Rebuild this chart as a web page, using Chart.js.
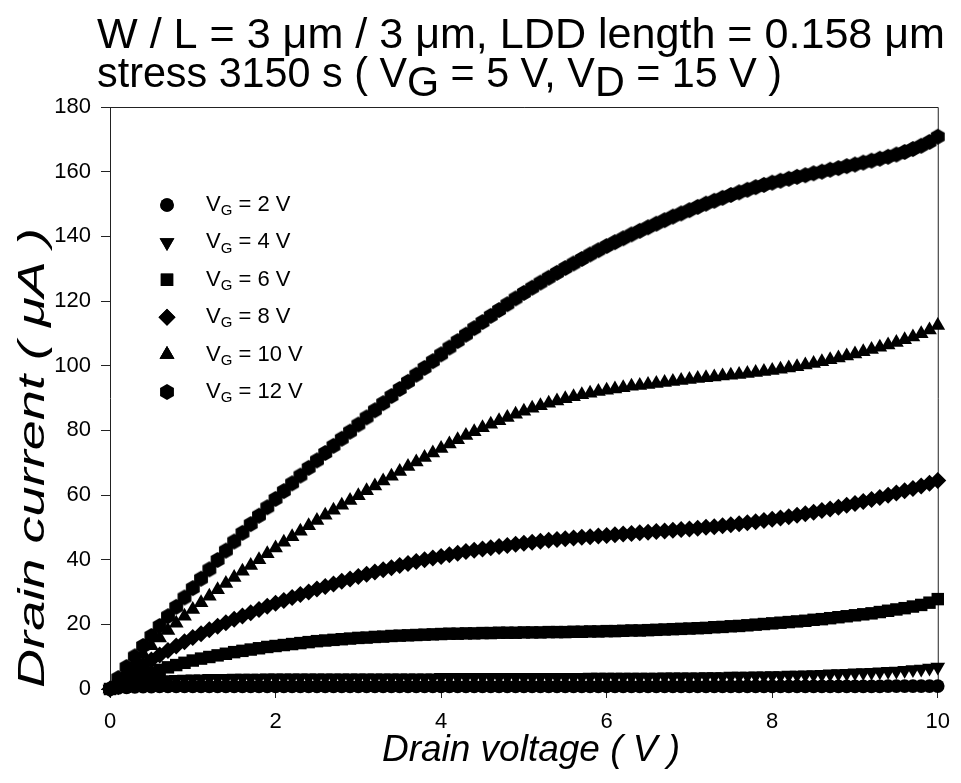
<!DOCTYPE html>
<html>
<head>
<meta charset="utf-8">
<script src="https://cdn.jsdelivr.net/npm/chart.js@4.4.0/dist/chart.umd.min.js"></script>
<style>
  html, body { margin: 0; padding: 0; background: #ffffff; }
  canvas { display: block; }
</style>
</head>
<body>
<canvas id="c" width="961" height="783"></canvas>
<script>
// Drain voltage sweep (V)
const drainVoltage = [
  0.0,0.1,0.2,0.3,0.4,0.5,0.6,0.7,0.8,0.9,
  1.0,1.1,1.2,1.3,1.4,1.5,1.6,1.7,1.8,1.9,
  2.0,2.1,2.2,2.3,2.4,2.5,2.6,2.7,2.8,2.9,
  3.0,3.1,3.2,3.3,3.4,3.5,3.6,3.7,3.8,3.9,
  4.0,4.1,4.2,4.3,4.4,4.5,4.6,4.7,4.8,4.9,
  5.0,5.1,5.2,5.3,5.4,5.5,5.6,5.7,5.8,5.9,
  6.0,6.1,6.2,6.3,6.4,6.5,6.6,6.7,6.8,6.9,
  7.0,7.1,7.2,7.3,7.4,7.5,7.6,7.7,7.8,7.9,
  8.0,8.1,8.2,8.3,8.4,8.5,8.6,8.7,8.8,8.9,
  9.0,9.1,9.2,9.3,9.4,9.5,9.6,9.7,9.8,9.9,
  10.0
];

// Drain current (uA) for each gate voltage
const currentVg2 = [
  0.0,0.3,0.5,0.6,0.7,0.7,0.8,0.8,0.8,0.8,
  0.8,0.8,0.8,0.8,0.8,0.8,0.8,0.8,0.8,0.8,
  0.8,0.8,0.8,0.8,0.8,0.8,0.8,0.8,0.8,0.8,
  0.8,0.8,0.8,0.8,0.8,0.8,0.8,0.8,0.8,0.8,
  0.8,0.8,0.8,0.8,0.8,0.8,0.8,0.8,0.8,0.8,
  0.8,0.8,0.8,0.8,0.8,0.8,0.8,0.8,0.8,0.8,
  0.8,0.8,0.8,0.8,0.8,0.8,0.8,0.8,0.8,0.8,
  0.8,0.8,0.8,0.8,0.8,0.8,0.8,0.8,0.8,0.8,
  0.8,0.8,0.8,0.8,0.8,0.8,0.8,0.8,0.8,0.8,
  0.8,0.8,0.8,0.8,0.9,0.9,0.9,0.9,0.9,0.9,
  0.9
];
const currentVg4 = [
  0.0,0.7,1.3,1.8,2.2,2.5,2.7,2.9,3.0,3.1,
  3.2,3.2,3.3,3.3,3.3,3.4,3.4,3.4,3.4,3.5,
  3.5,3.5,3.5,3.5,3.5,3.5,3.5,3.5,3.5,3.5,
  3.5,3.5,3.5,3.5,3.5,3.5,3.5,3.5,3.5,3.5,
  3.6,3.6,3.6,3.6,3.6,3.6,3.6,3.6,3.6,3.6,
  3.6,3.6,3.6,3.6,3.6,3.6,3.6,3.6,3.7,3.7,
  3.7,3.7,3.7,3.7,3.7,3.7,3.7,3.8,3.8,3.8,
  3.8,3.8,3.9,3.9,3.9,4.0,4.0,4.0,4.1,4.1,
  4.2,4.2,4.3,4.3,4.4,4.5,4.6,4.7,4.8,4.9,
  5.0,5.1,5.2,5.3,5.5,5.6,5.8,6.0,6.2,6.5,
  6.8
];
const currentVg6 = [
  0.0,1.2,2.3,3.3,4.2,5.1,5.9,6.7,7.4,8.1,
  8.8,9.4,9.9,10.4,10.9,11.4,11.8,12.2,12.6,13.0,
  13.3,13.6,13.9,14.2,14.5,14.8,15.0,15.2,15.4,15.6,
  15.8,15.9,16.1,16.2,16.4,16.5,16.6,16.7,16.8,16.9,
  17.0,17.1,17.1,17.2,17.2,17.3,17.3,17.4,17.4,17.4,
  17.5,17.5,17.5,17.6,17.6,17.6,17.7,17.7,17.8,17.8,
  17.9,17.9,18.0,18.1,18.1,18.2,18.3,18.4,18.5,18.6,
  18.7,18.8,18.9,19.1,19.2,19.4,19.5,19.7,19.9,20.1,
  20.3,20.5,20.7,20.9,21.1,21.4,21.6,21.9,22.2,22.5,
  22.8,23.1,23.4,23.8,24.2,24.6,25.0,25.5,26.0,26.7,
  27.8
];
const currentVg8 = [
  0.0,2.0,3.9,5.7,7.4,9.0,10.5,11.9,13.3,14.6,
  15.9,17.1,18.3,19.4,20.5,21.6,22.6,23.6,24.6,25.6,
  26.5,27.4,28.3,29.2,30.0,30.9,31.7,32.5,33.3,34.0,
  34.8,35.5,36.2,36.9,37.5,38.2,38.8,39.4,40.0,40.5,
  41.0,41.5,42.0,42.5,42.9,43.3,43.7,44.1,44.4,44.8,
  45.1,45.4,45.7,46.0,46.2,46.5,46.7,46.9,47.1,47.3,
  47.5,47.7,47.9,48.1,48.3,48.5,48.7,48.9,49.1,49.3,
  49.5,49.7,50.0,50.2,50.5,50.8,51.1,51.4,51.7,52.1,
  52.5,52.9,53.3,53.7,54.2,54.7,55.2,55.7,56.2,56.8,
  57.4,58.0,58.6,59.2,59.9,60.6,61.3,62.0,62.8,63.6,
  64.5
];
const currentVg10 = [
  0.0,2.8,5.6,8.3,10.9,13.4,15.8,18.1,20.3,22.5,
  24.6,26.7,28.7,30.7,32.6,34.5,36.4,38.2,40.0,41.8,
  43.6,45.4,47.1,48.8,50.5,52.1,53.7,55.3,56.8,58.3,
  59.8,61.3,62.8,64.3,65.8,67.3,68.8,70.2,71.6,73.0,
  74.4,75.8,77.1,78.4,79.6,80.8,81.9,83.0,84.0,85.0,
  85.9,86.8,87.6,88.4,89.1,89.8,90.4,91.0,91.5,92.0,
  92.4,92.8,93.2,93.6,93.9,94.2,94.5,94.8,95.1,95.4,
  95.7,96.0,96.3,96.5,96.8,97.0,97.3,97.6,97.9,98.2,
  98.5,98.9,99.3,99.7,100.2,100.7,101.2,101.8,102.4,103.0,
  103.6,104.3,105.0,105.7,106.4,107.2,108.0,108.9,109.9,111.0,
  112.4
];
const currentVg12 = [
  0.0,3.4,6.8,10.1,13.3,16.4,19.5,22.5,25.4,28.3,
  31.2,34.1,37.0,39.9,42.8,45.6,48.3,51.0,53.6,56.2,
  58.8,61.2,63.6,66.0,68.4,70.7,73.0,75.2,77.4,79.6,
  81.8,84.0,86.2,88.4,90.6,92.8,95.0,97.2,99.3,101.4,
  103.5,105.6,107.6,109.6,111.6,113.5,115.4,117.2,119.0,120.8,
  122.5,124.1,125.7,127.2,128.7,130.2,131.6,133.0,134.4,135.7,
  137.0,138.2,139.4,140.6,141.7,142.8,143.9,145.0,146.1,147.1,
  148.1,149.1,150.1,151.0,151.9,152.8,153.6,154.4,155.2,155.9,
  156.6,157.2,157.8,158.4,158.9,159.5,160.0,160.6,161.1,161.7,
  162.2,162.8,163.4,164.0,164.6,165.3,166.1,167.0,168.0,169.2,
  170.8
];

const gateVoltages = ['2', '4', '6', '8', '10', '12'];
const xTickValues = [0, 2, 4, 6, 8, 10];
const yTickValues = [0, 20, 40, 60, 80, 100, 120, 140, 160, 180];

const FONT = 'Arial, "Liberation Sans", Helvetica, sans-serif';

// Pointy-top hexagon marker, drawn once on a small canvas
function makeHexagon(r) {
  const size = Math.ceil(r * 2) + 2;
  const cv = document.createElement('canvas');
  cv.width = size; cv.height = size;
  const g = cv.getContext('2d');
  g.fillStyle = '#000';
  g.beginPath();
  for (let i = 0; i < 6; i++) {
    const a = -Math.PI / 2 + i * Math.PI / 3;
    const px = size / 2 + r * Math.cos(a);
    const py = size / 2 + r * Math.sin(a);
    if (i === 0) g.moveTo(px, py); else g.lineTo(px, py);
  }
  g.closePath();
  g.fill();
  return cv;
}
const hexagon = makeHexagon(8);

const series = [currentVg2, currentVg4, currentVg6, currentVg8, currentVg10, currentVg12];
const markerStyles = [
  { pointStyle: 'circle',   rotation: 0,   radius: 6.8 },
  { pointStyle: 'triangle', rotation: 180, radius: 8.5 },
  { pointStyle: 'rect',     rotation: 0,   radius: 8.8 },
  { pointStyle: 'rectRot',  rotation: 0,   radius: 8.5 },
  { pointStyle: 'triangle', rotation: 0,   radius: 8.5 },
  { pointStyle: hexagon,    rotation: 0,   radius: 8 }
];

const datasets = series.map((vals, i) => ({
  label: 'VG = ' + gateVoltages[i] + ' V',
  gate: gateVoltages[i],
  data: drainVoltage.map((v, k) => ({ x: v, y: vals[k] })),
  showLine: false,
  pointStyle: markerStyles[i].pointStyle,
  rotation: markerStyles[i].rotation,
  pointRadius: markerStyles[i].radius,
  pointHoverRadius: markerStyles[i].radius,
  pointBackgroundColor: '#000',
  pointBorderColor: '#000',
  pointBorderWidth: 0,
  clip: false
}));

// Writes text pieces one after another; a piece may be lowered (subscript)
function drawRun(ctx, x, y, pieces) {
  pieces.forEach(p => {
    ctx.font = p.size + 'px ' + FONT;
    ctx.fillText(p.t, x, y + (p.dy || 0));
    x += ctx.measureText(p.t).width;
  });
  return x;
}
function runWidth(ctx, pieces) {
  let w = 0;
  pieces.forEach(p => { ctx.font = p.size + 'px ' + FONT; w += ctx.measureText(p.t).width; });
  return w;
}

const framePlugin = {
  id: 'frame',
  beforeDatasetsDraw(chart) {
    const { ctx, chartArea: a } = chart;
    ctx.save();
    ctx.strokeStyle = '#222';
    ctx.lineWidth = 1;
    ctx.beginPath();
    ctx.moveTo(a.left, a.top + 0.5);
    ctx.lineTo(a.right + 0.5, a.top + 0.5);
    ctx.lineTo(a.right + 0.5, a.bottom);
    ctx.stroke();
    ctx.restore();
  }
};

const headerPlugin = {
  id: 'header',
  afterDraw(chart) {
    const ctx = chart.ctx;
    ctx.save();
    ctx.fillStyle = '#000';
    ctx.textBaseline = 'alphabetic';
    ctx.textAlign = 'left';
    const s = 42;
    const line1 = [{ t: 'W / L = 3 \u03bcm / 3 \u03bcm, LDD length = 0.158 \u03bcm', size: s }];
    const line2 = [
      { t: 'stress 3150 s ( V', size: s }, { t: 'G', size: s, dy: 9 },
      { t: ' = 5 V, V', size: s }, { t: 'D', size: s, dy: 9 }, { t: ' = 15 V )', size: s }
    ];
    [[line1, 48, 848], [line2, 87, 685]].forEach(([pieces, y, w]) => {
      const k = w / runWidth(ctx, pieces);
      ctx.save();
      ctx.translate(97, y);
      ctx.scale(k, 1);
      drawRun(ctx, 0, 0, pieces);
      ctx.restore();
    });

    // axis titles
    ctx.font = 'italic 37px ' + FONT;
    ctx.textAlign = 'center';
    ctx.fillText('Drain voltage ( V )', 531, 761);

    const yTitle = 'Drain current ( \u03bcA )';
    ctx.textAlign = 'left';
    const ky = 460 / ctx.measureText(yTitle).width;
    ctx.save();
    ctx.translate(44, 688);
    ctx.rotate(-Math.PI / 2);
    ctx.scale(ky, 1);
    ctx.fillText(yTitle, 0, 0);
    ctx.restore();
    ctx.restore();
  }
};

const legendPlugin = {
  id: 'markerLegend',
  afterDraw(chart) {
    const ctx = chart.ctx;
    ctx.save();
    ctx.fillStyle = '#000';
    ctx.textBaseline = 'middle';
    ctx.textAlign = 'left';
    const x0 = 167, y0 = 205, step = 37.4;
    chart.data.datasets.forEach((ds, i) => {
      const y = y0 + i * step;
      Chart.helpers.drawPoint(ctx, {
        pointStyle: ds.pointStyle, rotation: ds.rotation,
        radius: ds.pointRadius, borderWidth: 0
      }, x0, y);
      ctx.fill();
      drawRun(ctx, 206, y, [
        { t: 'V', size: 22 }, { t: 'G', size: 15, dy: 6 }, { t: ' = ' + ds.gate + ' V', size: 22 }
      ]);
    });
    ctx.restore();
  }
};

new Chart(document.getElementById('c'), {
  type: 'scatter',
  data: { datasets },
  plugins: [framePlugin, headerPlugin, legendPlugin],
  options: {
    responsive: false,
    animation: false,
    devicePixelRatio: 1,
    layout: { padding: { left: 0, right: 21, top: 107, bottom: 0 } },
    plugins: { legend: { display: false }, tooltip: { enabled: false }, title: { display: false } },
    scales: {
      x: {
        type: 'linear', min: 0, max: 10,
        afterFit(s) { s.height = 94; },
        afterBuildTicks(s) { s.ticks = xTickValues.map(v => ({ value: v })); },
        grid: { display: true, drawOnChartArea: false, drawTicks: true, tickLength: 9, color: '#222', lineWidth: 1 },
        border: { display: true, color: '#222', width: 1 },
        ticks: { font: { family: FONT, size: 22 }, color: '#000', padding: 11, maxRotation: 0 }
      },
      y: {
        type: 'linear', min: 0, max: 180,
        afterFit(s) { s.width = 110; },
        afterBuildTicks(s) { s.ticks = yTickValues.map(v => ({ value: v })); },
        grid: { display: true, drawOnChartArea: false, drawTicks: true, tickLength: 9, color: '#222', lineWidth: 1 },
        border: { display: true, color: '#222', width: 1 },
        ticks: { font: { family: FONT, size: 22 }, color: '#000', padding: 10 }
      }
    }
  }
});
</script>
</body>
</html>
